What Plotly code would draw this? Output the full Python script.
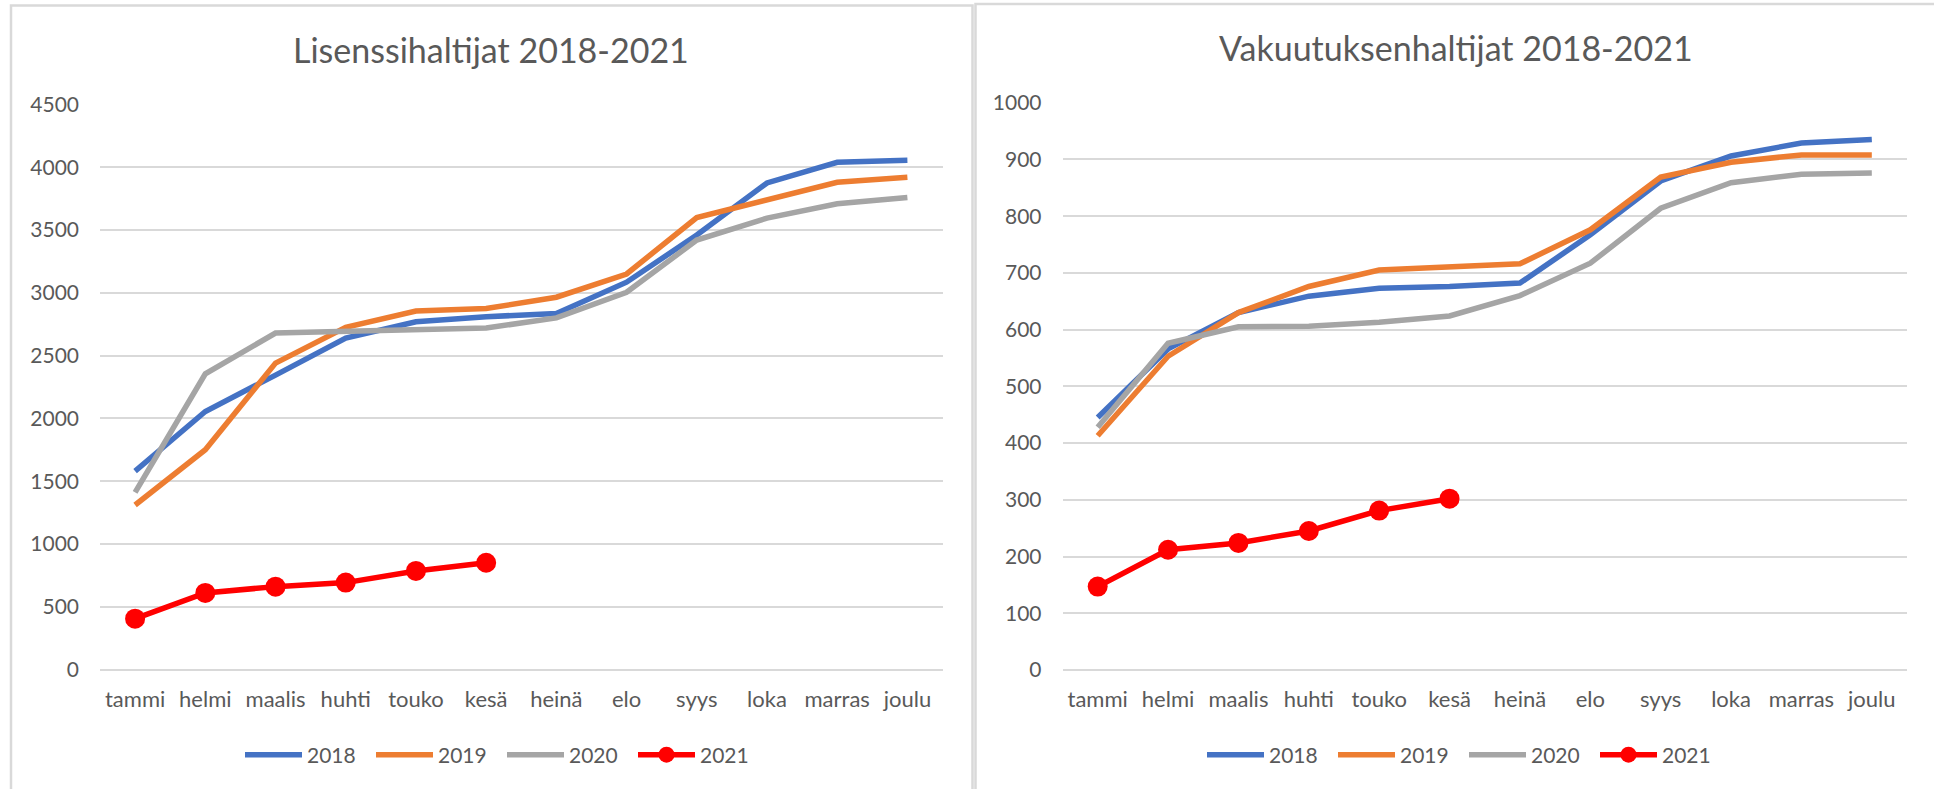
import plotly.graph_objects as go

months = ["tammi", "helmi", "maalis", "huhti", "touko", "kesä", "heinä", "elo", "syys", "loka", "marras", "joulu"]
years = ["2018", "2019", "2020", "2021"]

lis_2018 = [1580, 2055, 2345, 2640, 2770, 2810, 2835, 3085, 3460, 3875, 4040, 4055]
lis_2019 = [1310, 1750, 2440, 2725, 2855, 2875, 2965, 3150, 3600, 3740, 3880, 3920]
lis_2020 = [1410, 2355, 2680, 2690, 2700, 2720, 2800, 3005, 3420, 3595, 3710, 3760]
lis_2021 = [405, 610, 660, 692, 785, 850]

vak_2018 = [445, 566, 630, 659, 673, 676, 682, 767, 862, 906, 929, 935]
vak_2019 = [413, 553, 630, 676, 705, 710, 716, 776, 869, 895, 908, 908]
vak_2020 = [428, 576, 605, 606, 613, 624, 660, 717, 814, 859, 874, 876]
vak_2021 = [147, 212, 224, 245, 281, 302]

title_left = "Lisenssihaltijat 2018-2021"
title_right = "Vakuutuksenhaltijat 2018-2021"
lis_ticks = [0, 500, 1000, 1500, 2000, 2500, 3000, 3500, 4000, 4500]
vak_ticks = [0, 100, 200, 300, 400, 500, 600, 700, 800, 900, 1000]

colors = ["#4472C4", "#ED7D31", "#A5A5A5", "#FF0000"]
W, H = 1934, 789
TXT = "#595959"
GRID = "#D9D9D9"
FONT = "Lato"

fig = go.Figure()

def add_series(data, xa, ya, legend):
    for i, (yr, vals) in enumerate(zip(years, data)):
        if yr == "2021":
            fig.add_trace(go.Scatter(
                x=months[:len(vals)], y=vals, name=yr, mode="lines+markers",
                line=dict(color=colors[i], width=5.5),
                marker=dict(color=colors[i], size=20),
                xaxis=xa, yaxis=ya, legend=legend))
        else:
            fig.add_trace(go.Scatter(
                x=months[:len(vals)], y=vals, name=yr, mode="lines",
                line=dict(color=colors[i], width=5.5),
                xaxis=xa, yaxis=ya, legend=legend))

add_series([lis_2018, lis_2019, lis_2020, lis_2021], "x", "y", "legend")
add_series([vak_2018, vak_2019, vak_2020, vak_2021], "x2", "y2", "legend2")

xcommon = dict(type="category", categoryorder="array", categoryarray=months,
               range=[-0.5, 11.5], showgrid=False, zeroline=False, showline=False,
               ticks="", tickfont=dict(family=FONT, size=22, color=TXT),
               ticklabelstandoff=14, automargin=False, fixedrange=True)
ycommon = dict(showgrid=True, gridcolor=GRID, gridwidth=2, zeroline=True,
               zerolinecolor=GRID, zerolinewidth=2, showline=False, ticks="",
               tickfont=dict(family=FONT, size=21, color=TXT),
               ticklabelstandoff=20, automargin=False, fixedrange=True)

legcommon = dict(orientation="h", xanchor="center", y=1 - 755 / H, yanchor="middle",
                 font=dict(family=FONT, size=21, color=TXT), itemwidth=57,
                 entrywidth=59, entrywidthmode="pixels", bgcolor="rgba(0,0,0,0)")

fig.update_layout(
    width=W, height=H,
    margin=dict(l=0, r=0, t=0, b=0, pad=0, autoexpand=False),
    paper_bgcolor="white", plot_bgcolor="white",
    font=dict(family=FONT, color=TXT),
    xaxis=dict(domain=[100 / W, 942.5 / W], anchor="y", **xcommon),
    yaxis=dict(domain=[1 - 669.5 / H, 1 - 104.5 / H], anchor="x",
               range=[0, 4500], tickvals=lis_ticks, **ycommon),
    xaxis2=dict(domain=[1062.5 / W, 1907 / W], anchor="y2", **xcommon),
    yaxis2=dict(domain=[1 - 670 / H, 1 - 102.7 / H], anchor="x2",
                range=[0, 1000], tickvals=vak_ticks, **ycommon),
    legend=dict(x=502 / W, **legcommon),
    legend2=dict(x=1464 / W, **legcommon),
    showlegend=True,
    annotations=[
        dict(text=title_left, xref="paper", yref="paper", x=491 / W, y=1 - 50 / H,
             xanchor="center", yanchor="middle", showarrow=False,
             font=dict(family=FONT, size=34, color=TXT)),
        dict(text=title_right, xref="paper", yref="paper", x=1456 / W, y=1 - 48 / H,
             xanchor="center", yanchor="middle", showarrow=False,
             font=dict(family=FONT, size=34, color=TXT)),
    ],
    shapes=[
        dict(type="rect", xref="paper", yref="paper", x0=11 / W, x1=972.5 / W,
             y0=-0.05, y1=1 - 5.5 / H, line=dict(color=GRID, width=2.5), layer="below"),
        dict(type="rect", xref="paper", yref="paper", x0=975.5 / W, x1=1.01,
             y0=-0.05, y1=1 - 4 / H, line=dict(color=GRID, width=2.5), layer="below"),
    ],
)

fig.write_html(
    "out.html",
    config={"displayModeBar": False},
    post_script="document.body.style.margin='0';document.body.style.overflow='hidden';",
)
